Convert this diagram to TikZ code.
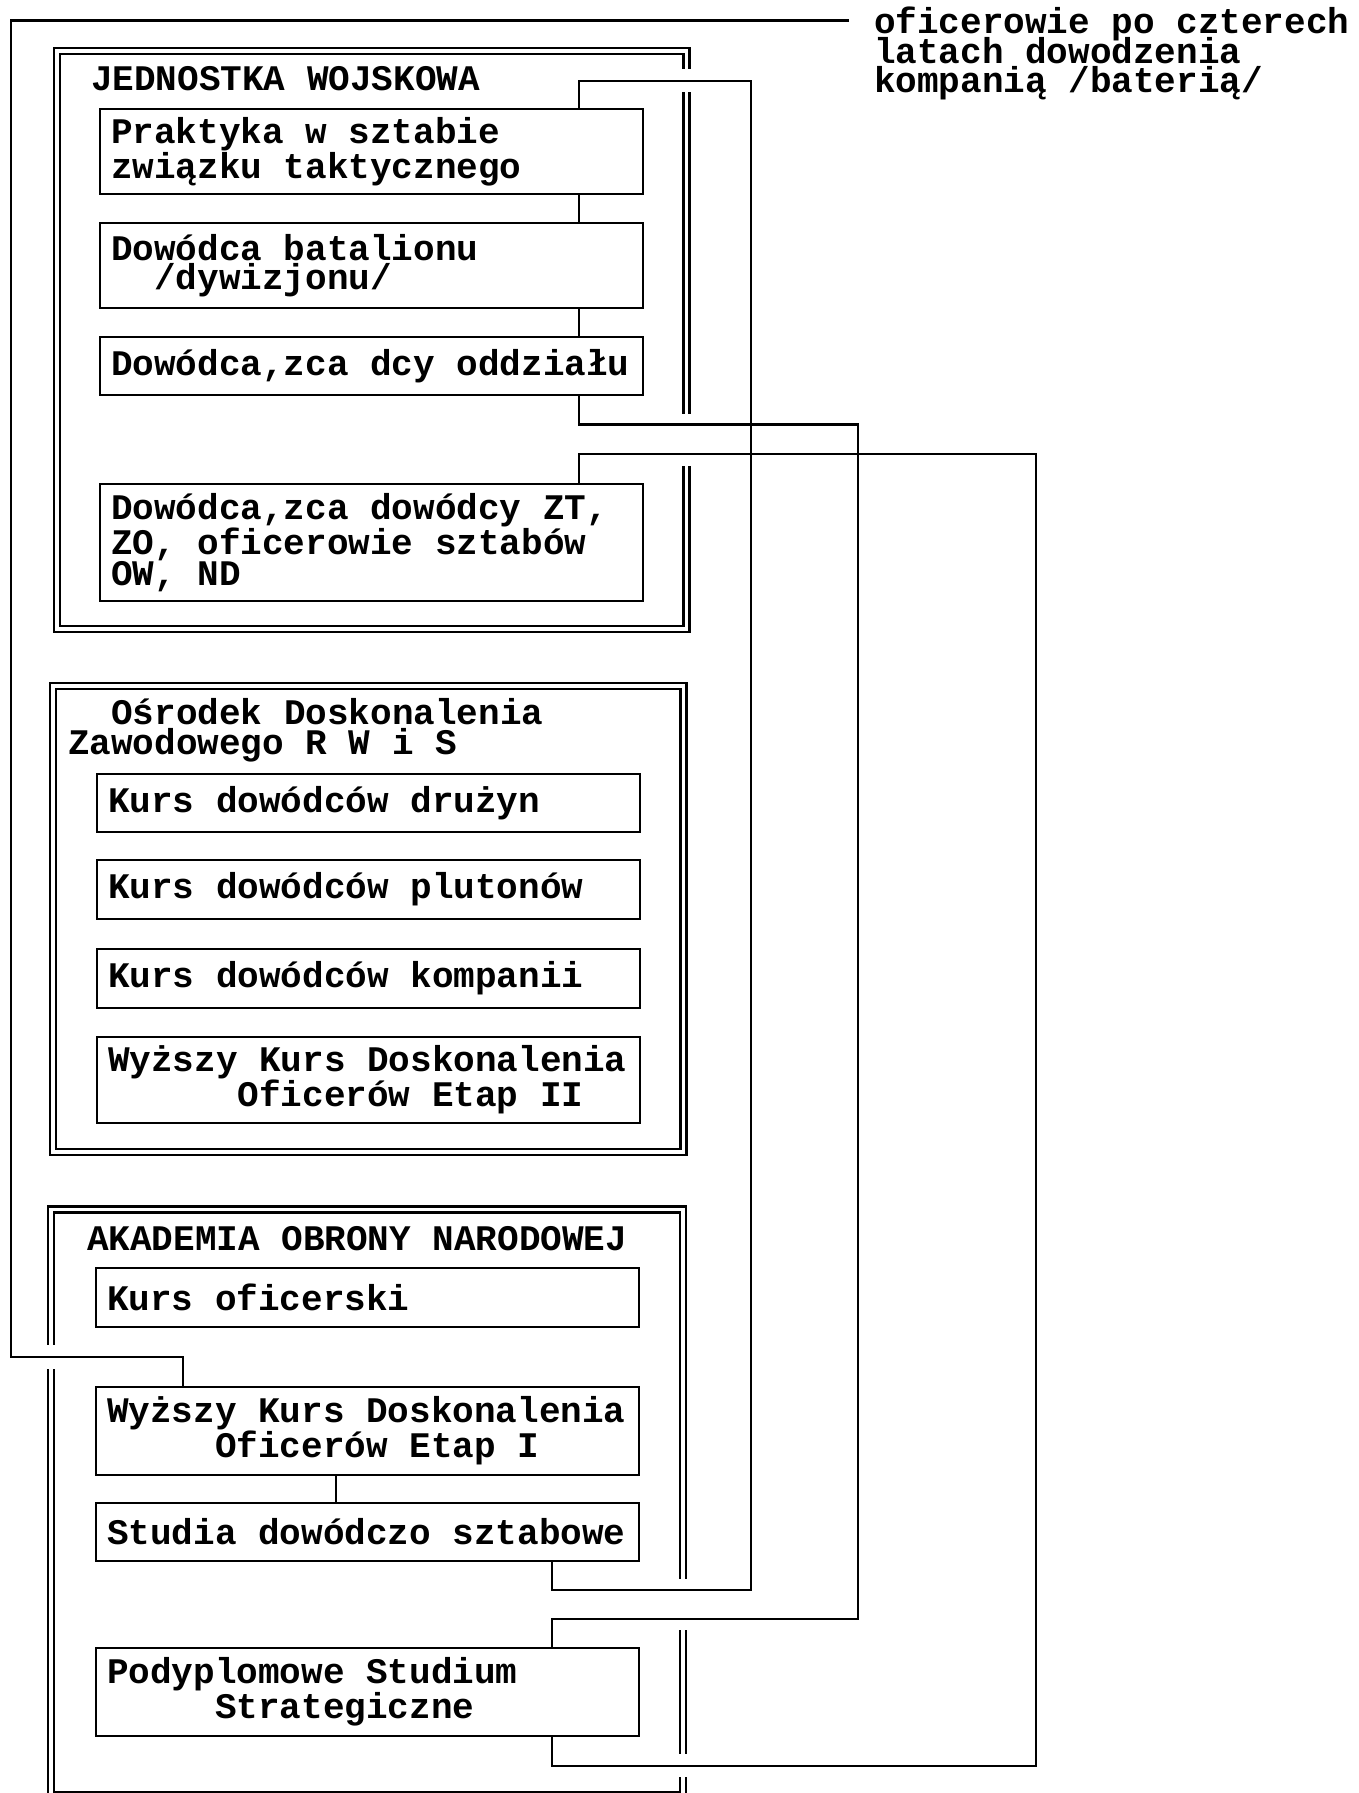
\documentclass[tikz,border=0pt]{standalone}
\usepackage{fontspec}
\setmainfont{Liberation Mono}
\setlength\parindent{0pt}
\setlength\lineskiplimit{-50pt}
\newcommand\wciecie[1]{\hspace*{#1\fontcharwd\font`x}}
\begin{document}
\begin{tikzpicture}[x=1pt,y=-1pt,line width=2.4pt,line join=miter,
	font=\fontsize{36}{29.5}\selectfont\bfseries,
	kratka/.style={draw,outer sep=0pt,inner xsep=11pt,inner ysep=0pt,
		text width=521pt,align=flush left,anchor=north west},
	tytul/.style={inner sep=0pt,outer sep=0pt,align=flush left},
	ramka/.style={double,double distance=3.6pt}]
	\def\ca{751} \def\cb{858} \def\cc{1036} % pionowe linie
	\useasboundingbox (0,0) rectangle (1358,1793);
	% ramki
	\draw[ramka] (57,51) rectangle (686.3,628.8);
	\draw[ramka] (52.7,686) rectangle (683.3,1151.7);
	\draw[ramka] (50.8,1209.5) rectangle (683,1794.7);
	\foreach \xa/\ya/\yb in {680/69.3/92.3,680/413.7/466,44/1345/1369.3,676/1579/1630,676/1754/1777}
		\fill[white] (\xa,\ya) rectangle ++(13,\yb-\ya);
	% JEDNOSTKA WOJSKOWA
	\node[tytul,anchor=base west] (jw) at (91,90) {JEDNOSTKA WOJSKOWA};
	\node[kratka,minimum height=85pt] (prak) at (100,109) {Praktyka w sztabie\\związku taktycznego};
	\node[kratka,minimum height=85pt] (bat) at (100,223) {Dowódca batalionu\\\wciecie{2}/dywizjonu/};
	\node[kratka,minimum height=58pt] (odd) at (100,337) {Dowódca,zca dcy oddziału};
	\node[kratka,minimum height=117pt] (zt) at (100,484) {Dowódca,zca dowódcy ZT,\\ZO, oficerowie sztabów\\OW, ND};
	% Osrodek
	\node[tytul,anchor=north west] (odz) at (68,698.5) {\wciecie{2}Ośrodek Doskonalenia\\Zawodowego R W i S};
	\node[kratka,minimum height=58pt] (kd) at (97,774) {Kurs dowódców drużyn};
	\node[kratka,minimum height=59pt] (kp) at (97,860) {Kurs dowódców plutonów};
	\node[kratka,minimum height=59pt] (kk) at (97,949) {Kurs dowódców kompanii};
	\node[kratka,minimum height=86pt] (wk2) at (97,1037) {Wyższy Kurs Doskonalenia\\\wciecie{6}Oficerów Etap II};
	% AKADEMIA
	\node[tytul,anchor=base west] (aon) at (87,1250) {AKADEMIA OBRONY NARODOWEJ};
	\node[kratka,minimum height=59pt] (kof) at (96,1268) {Kurs oficerski};
	\node[kratka,minimum height=88pt] (wk1) at (96,1387) {Wyższy Kurs Doskonalenia\\\wciecie{5}Oficerów Etap I};
	\node[kratka,minimum height=58pt] (stu) at (96,1503) {Studia dowódczo sztabowe};
	\node[kratka,minimum height=88pt] (pody) at (96,1648) {Podyplomowe Studium\\\wciecie{5}Strategiczne};
	% opis
	\node[tytul,anchor=north west] (opis) at (874,7) {oficerowie po czterech\\latach dowodzenia\\kompanią /baterią/};
	\coordinate (kon) at (849,20.7);
	\coordinate (lewy) at (11,1357);
	% polaczenia
	\draw (kon) -| (lewy) -| ([xshift=87pt]wk1.north west);
	\draw ([xshift=-64pt]prak.south east) -- ([xshift=-64pt]bat.north east);
	\draw ([xshift=-64pt]bat.south east) -- ([xshift=-64pt]odd.north east);
	\draw ([xshift=240pt]wk1.south west) -- ([xshift=240pt]stu.north west);
	\draw ([xshift=-64pt]prak.north east) |- (\ca,80.7) -- (\ca,1590) -| ([xshift=-87pt]stu.south east);
	\draw ([xshift=-64pt]odd.south east) |- (\cb,424.3) -- (\cb,1619) -| ([xshift=-87pt]pody.north east);
	\draw ([xshift=-64pt]zt.north east) |- (\cc,454) -- (\cc,1766) -| ([xshift=-87pt]pody.south east);
\end{tikzpicture}
\end{document}
